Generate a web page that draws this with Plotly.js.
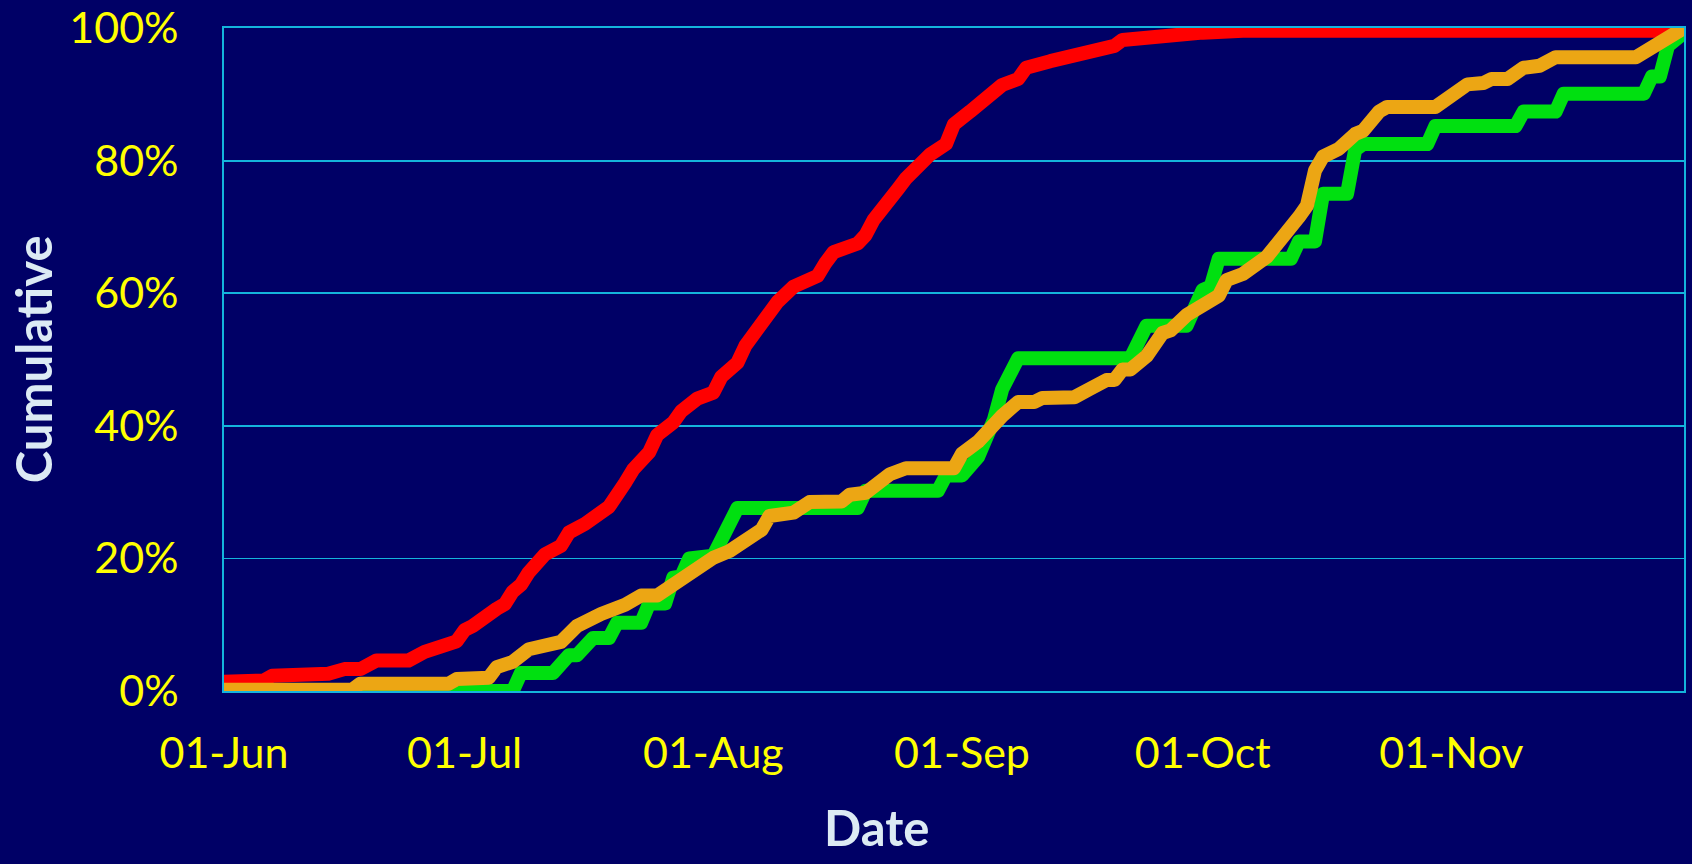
<!DOCTYPE html>
<html>
<head>
<meta charset="utf-8">
<script src="https://cdn.plot.ly/plotly-3.0.1.min.js"></script>
<style>
  html, body { margin: 0; padding: 0; background: #000066; }
  #chart { width: 1692px; height: 864px; }
  .js-line { stroke-linejoin: round !important; stroke-linecap: round !important; }
</style>
</head>
<body>
<div id="chart"></div>
<script>
// ---- Data (cumulative %) ----
const redDates = ['2021-06-01','2021-06-06','2021-06-07','2021-06-10','2021-06-11','2021-06-14','2021-06-16','2021-06-18','2021-06-20','2021-06-24','2021-06-26','2021-06-28','2021-06-30','2021-07-01','2021-07-02','2021-07-05','2021-07-06','2021-07-07','2021-07-08','2021-07-09','2021-07-10','2021-07-11','2021-07-13','2021-07-14','2021-07-16','2021-07-17','2021-07-19','2021-07-21','2021-07-22','2021-07-24','2021-07-25','2021-07-27','2021-07-28','2021-07-30','2021-08-01','2021-08-02','2021-08-04','2021-08-05','2021-08-06','2021-08-08','2021-08-09','2021-08-11','2021-08-14','2021-08-15','2021-08-16','2021-08-19','2021-08-20','2021-08-21','2021-08-23','2021-08-24','2021-08-25','2021-08-27','2021-08-28','2021-08-30','2021-08-31','2021-09-02','2021-09-04','2021-09-06','2021-09-08','2021-09-09','2021-09-12','2021-09-14','2021-09-16','2021-09-18','2021-09-20','2021-09-21','2021-09-25','2021-09-26','2021-10-01','2021-10-06','2021-11-30'];
const redValues = [1.4,1.6,2.3,2.3,2.6,2.6,3.3,3.3,4.6,4.6,5.9,6.5,7.5,9.2,9.8,12.4,13.1,15.0,16.0,17.9,19.0,20.6,21.9,23.9,25.2,26.2,27.8,31.4,33.4,36.0,38.6,40.5,42.2,44.1,45.0,47.4,49.5,52.1,53.8,56.7,58.7,61.0,62.6,64.6,66.2,67.5,68.8,71.1,73.7,75.7,77.3,80.2,80.9,82.5,85.5,87.4,89.1,91.4,92.3,94.0,95.0,95.6,96.3,96.6,97.3,98.2,98.7,99.2,99.3,99.6,99.6];

const greenDates = ['2021-06-01','2021-07-07','2021-07-08','2021-07-12','2021-07-14','2021-07-15','2021-07-17','2021-07-19','2021-07-20','2021-07-23','2021-07-24','2021-07-26','2021-07-27','2021-07-28','2021-07-29','2021-07-31','2021-08-01','2021-08-04','2021-08-19','2021-08-20','2021-08-29','2021-08-30','2021-09-01','2021-09-03','2021-09-04','2021-09-05','2021-09-06','2021-09-08','2021-09-22','2021-09-24','2021-09-29','2021-09-30','2021-10-01','2021-10-02','2021-10-03','2021-10-12','2021-10-13','2021-10-15','2021-10-16','2021-10-19','2021-10-20','2021-10-21','2021-10-29','2021-10-30','2021-11-09','2021-11-10','2021-11-14','2021-11-15','2021-11-25','2021-11-26','2021-11-27','2021-11-28','2021-11-29','2021-11-30'];
const greenValues = [0,0,2.7,2.7,5.4,5.4,8.0,8.0,10.3,10.3,13.2,13.2,17.1,17.3,20.0,20.0,20.4,27.6,27.6,30.2,30.2,32.5,32.5,35.3,38.0,41.0,45.5,50.2,50.2,55.1,55.1,58.2,60.5,61.0,65.2,65.2,67.8,67.8,75.0,75.0,81.6,82.5,82.5,85.2,85.2,87.4,87.4,90.1,90.1,92.7,92.7,97.3,98.2,99.3];

const orangeDates = ['2021-06-01','2021-06-17','2021-06-18','2021-06-29','2021-06-30','2021-07-04','2021-07-05','2021-07-07','2021-07-09','2021-07-12','2021-07-13','2021-07-15','2021-07-16','2021-07-18','2021-07-21','2021-07-23','2021-07-25','2021-07-28','2021-07-29','2021-07-31','2021-08-01','2021-08-03','2021-08-06','2021-08-07','2021-08-08','2021-08-11','2021-08-13','2021-08-17','2021-08-18','2021-08-20','2021-08-23','2021-08-25','2021-08-31','2021-09-01','2021-09-03','2021-09-04','2021-09-06','2021-09-08','2021-09-10','2021-09-11','2021-09-15','2021-09-17','2021-09-19','2021-09-20','2021-09-21','2021-09-22','2021-09-24','2021-09-26','2021-09-27','2021-09-29','2021-09-30','2021-10-01','2021-10-03','2021-10-04','2021-10-06','2021-10-09','2021-10-12','2021-10-13','2021-10-14','2021-10-15','2021-10-16','2021-10-18','2021-10-20','2021-10-21','2021-10-23','2021-10-24','2021-10-30','2021-11-01','2021-11-02','2021-11-03','2021-11-05','2021-11-06','2021-11-08','2021-11-10','2021-11-12','2021-11-14','2021-11-24','2021-11-25','2021-11-26','2021-11-27','2021-11-29','2021-11-30'];
const orangeValues = [0.2,0.2,1.1,1.1,1.8,2.0,3.6,4.4,6.3,6.8,7.4,9.8,10.5,11.6,13.0,14.4,14.4,17.0,17.8,19.6,20.1,21.1,23.2,24.3,26.4,26.9,28.5,28.6,29.6,29.9,32.7,33.6,33.6,35.8,37.6,39.0,41.5,43.6,43.6,44.2,44.3,45.6,46.9,46.9,48.5,48.5,50.5,54.0,54.4,56.7,57.5,58.3,59.6,62.0,62.9,65.5,69.6,71.5,73.2,78.5,80.6,81.8,84.0,84.5,87.4,88.1,88.1,89.8,90.1,91.5,91.7,92.3,92.3,94.0,94.3,95.6,95.6,96.3,96.6,97.6,98.9,100.0];

const xTickVals = ['2021-06-01','2021-07-01','2021-08-01','2021-09-01','2021-10-01','2021-11-01'];
const xTickText = ['01-Jun','01-Jul','01-Aug','01-Sep','01-Oct','01-Nov'];
const yTickVals = [0,20,40,60,80,100];
const yTickText = ['0%','20%','40%','60%','80%','100%'];

// ---- Styling ----
const BG = '#000066';
const GRID = '#14B4DC';
const TICK_FONT = {family: 'Lato, "Open Sans", sans-serif', size: 43, color: '#FFFF00'};
const TITLE_FONT = {family: 'Lato, "Open Sans", sans-serif', size: 49, color: '#DCEAF4', weight: 700};

const mk = (x, y, color) => ({
  x: x, y: y, type: 'scatter', mode: 'lines',
  line: {color: color, width: 14, shape: 'linear'},
  hoverinfo: 'skip', showlegend: false
});

const data = [
  mk(redDates, redValues, '#FF0000'),
  mk(greenDates, greenValues, '#00E010'),
  mk(orangeDates, orangeValues, '#ECA614')
];

const layout = {
  width: 1692, height: 864,
  margin: {l: 224, r: 8, t: 28, b: 173, pad: 0},
  paper_bgcolor: BG, plot_bgcolor: BG,
  showlegend: false,
  xaxis: {
    type: 'date',
    range: ['2021-06-01', '2021-11-30'],
    tickmode: 'array', tickvals: xTickVals, ticktext: xTickText,
    tickfont: TICK_FONT, ticks: '', ticklabelstandoff: 24,
    showgrid: false, zeroline: false,
    showline: true, mirror: true, linecolor: GRID, linewidth: 1.8
  },
  yaxis: {
    range: [0, 100],
    tickmode: 'array', tickvals: yTickVals, ticktext: yTickText,
    tickfont: TICK_FONT, ticks: '', ticklabelstandoff: 35,
    showgrid: true, gridcolor: GRID, gridwidth: 1.8, zeroline: false,
    showline: true, mirror: true, linecolor: GRID, linewidth: 1.8
  },
  annotations: [
    {text: 'Cumulative', xref: 'paper', yref: 'paper', x: -0.131, y: 0.5,
     xanchor: 'center', yanchor: 'middle', textangle: -90, showarrow: false, font: TITLE_FONT},
    {text: 'Date', xref: 'paper', yref: 'paper', x: 0.4468, y: -0.252,
     xanchor: 'center', yanchor: 'bottom', showarrow: false, font: TITLE_FONT}
  ]
};

Plotly.newPlot('chart', data, layout, {displayModeBar: false, staticPlot: true});
</script>
</body>
</html>
